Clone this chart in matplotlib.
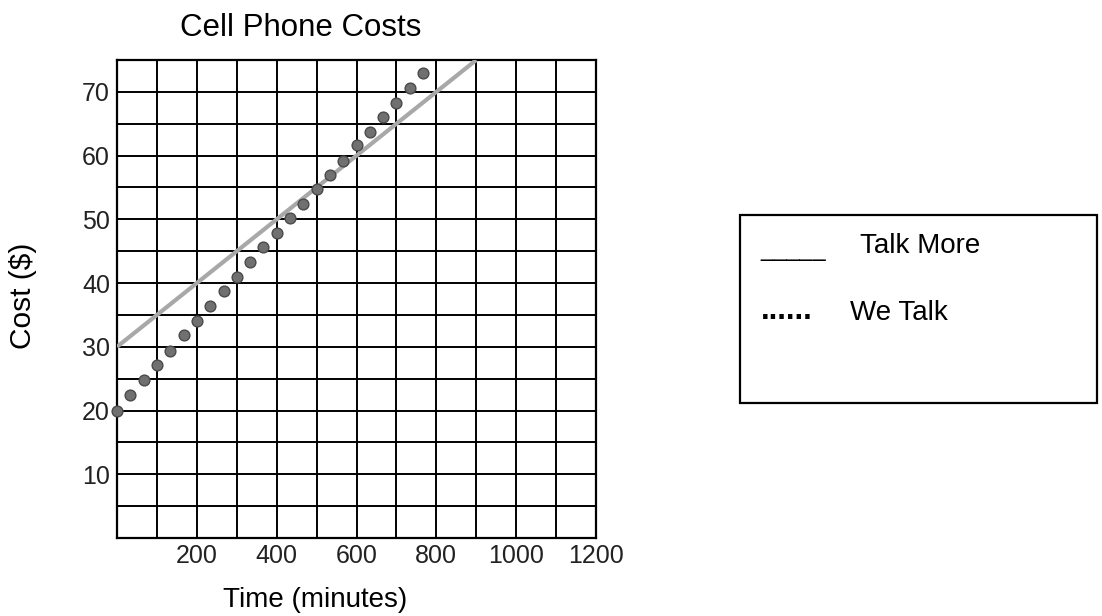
import matplotlib
matplotlib.use("Agg")
import matplotlib.pyplot as plt
from matplotlib.patches import Rectangle

plt.rcParams['font.family'] = ['Liberation Sans', 'DejaVu Sans']

title = "Cell Phone Costs"
xlabel = "Time (minutes)"
ylabel = "Cost ($)"
x_ticks = [200, 400, 600, 800, 1000, 1200]
y_ticks = [10, 20, 30, 40, 50, 60, 70]

# Talk More plan (line)
talk_more_min = [0, 900]
talk_more_cost = [30, 75]

# We Talk plan (dots)
we_talk_min = [0, 33, 67, 100, 133, 167, 200, 233, 267, 300, 333, 367,
               400, 433, 467, 500, 533, 567, 600, 633, 667, 700, 733, 767]
we_talk_cost = [20.0, 22.4, 24.8, 27.1, 29.4, 31.8, 34.1, 36.4, 38.7, 41.0, 43.3, 45.6,
                47.9, 50.2, 52.4, 54.7, 57.0, 59.2, 61.6, 63.7, 66.0, 68.2, 70.6, 72.9]

W, H = 1102, 616
fig = plt.figure(figsize=(W/100, H/100), dpi=100)
ax = fig.add_axes([117/W, 1-538/H, (596-117)/W, (538-60)/H])

ax.set_xlim(0, 1200)
ax.set_ylim(0, 75)
for gx in range(100, 1200, 100):
    ax.axvline(gx, color='black', lw=1.4, zorder=1)
for gy in range(5, 75, 5):
    ax.axhline(gy, color='black', lw=1.4, zorder=1)
for s in ax.spines.values():
    s.set_linewidth(1.6)
    s.set_color('black')

ax.plot(talk_more_min, talk_more_cost, color='#a8a8a8', lw=3, zorder=3, solid_capstyle='butt')
ax.scatter(we_talk_min, we_talk_cost, s=60, color='#707070', edgecolors='#4a4a4a',
           linewidths=1.0, zorder=4, clip_on=False)

ax.set_xticks(x_ticks)
ax.set_yticks(y_ticks)
ax.tick_params(length=0, labelsize=18, colors='black')
ax.tick_params(axis='x', pad=4)
ax.tick_params(axis='y', pad=5)
for lab in ax.get_xticklabels() + ax.get_yticklabels():
    lab.set_color('#222222')

fig.text(301/W, 1-36/H, title, ha='center', va='baseline', fontsize=22.5)
fig.text(315/W, 1-607/H, xlabel, ha='center', va='baseline', fontsize=20)
fig.text(23/W, 1-296/H, ylabel, ha='center', va='center', fontsize=21.5, rotation=90)

# legend box
fig.patches.append(Rectangle((740/W, 1-403/H), (1097-740)/W, (403-215)/H,
                             transform=fig.transFigure, fill=False, edgecolor='black', lw=1.6))
fig.text(760/W, 1-256/H, "_____", ha='left', va='baseline', fontsize=17)
fig.text(860/W, 1-253/H, "Talk More", ha='left', va='baseline', fontsize=20)
fig.text(761/W, 1-319/H, "......", ha='left', va='baseline', fontsize=22, fontweight='bold')
fig.text(850/W, 1-320/H, "We Talk", ha='left', va='baseline', fontsize=20)

fig.savefig("out.png", dpi=100)
